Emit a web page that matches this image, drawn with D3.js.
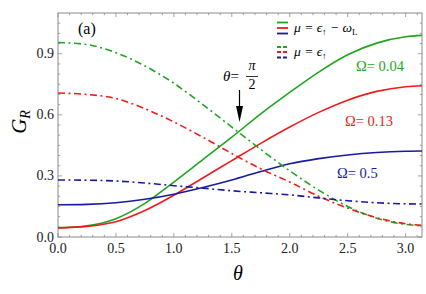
<!DOCTYPE html>
<html lang="en">
<head>
<meta charset="UTF-8">
<title>G_R vs theta</title>
<script src="https://cdn.jsdelivr.net/npm/d3@7"></script>
<style>
  body { margin: 0; background: #fff; }
  svg { display: block; }
</style>
</head>
<body>
<div id="chart"></div>
<script>
// data
const theta = [0, 0.25, 0.5, 0.75, 1.0, 1.25, 1.5, 1.75, 2.0, 2.25, 2.5, 2.75, 3.0, 3.1416];
const greenSolid = [0.045, 0.055, 0.09, 0.165, 0.27, 0.38, 0.49, 0.605, 0.71, 0.81, 0.895, 0.952, 0.983, 0.99];
const redSolid = [0.045, 0.052, 0.075, 0.13, 0.205, 0.29, 0.375, 0.46, 0.54, 0.612, 0.672, 0.715, 0.738, 0.743];
const blueSolid = [0.158, 0.16, 0.168, 0.185, 0.21, 0.243, 0.28, 0.322, 0.36, 0.385, 0.403, 0.415, 0.421, 0.422];
const greenDash = [0.955, 0.945, 0.905, 0.84, 0.755, 0.65, 0.54, 0.43, 0.325, 0.23, 0.15, 0.092, 0.062, 0.055];
const redDash = [0.707, 0.70, 0.68, 0.63, 0.565, 0.49, 0.41, 0.335, 0.27, 0.2, 0.142, 0.095, 0.065, 0.057];
const blueDash = [0.28, 0.279, 0.275, 0.265, 0.252, 0.24, 0.227, 0.217, 0.207, 0.192, 0.178, 0.168, 0.163, 0.162];
const xTicks = [0, 0.5, 1.0, 1.5, 2.0, 2.5, 3.0];
const yTicks = [0, 0.3, 0.6, 0.9];

const colors = { green: "#1fa51f", red: "#ee1c1c", blue: "#1a1aa0" };
const dashDot = "7,3.5,2,3.5";

const series = [
  { vals: greenSolid, color: colors.green, dash: null },
  { vals: redSolid, color: colors.red, dash: null },
  { vals: blueSolid, color: colors.blue, dash: null },
  { vals: greenDash, color: colors.green, dash: dashDot },
  { vals: redDash, color: colors.red, dash: dashDot },
  { vals: blueDash, color: colors.blue, dash: dashDot }
];

// pick a serif face that is really installed (falls back otherwise)
function pickSerif() {
  const ctx = document.createElement("canvas").getContext("2d");
  const sample = "mmwwiilQg0.5θΩ";
  ctx.font = "20px monospace";
  const base = ctx.measureText(sample).width;
  const names = ["Liberation Serif", "Times New Roman", "Tinos", "DejaVu Serif", "Noto Serif", "FreeSerif", "Nimbus Roman"];
  for (const n of names) {
    ctx.font = `20px "${n}", monospace`;
    if (Math.abs(ctx.measureText(sample).width - base) > 0.5) return `"${n}", serif`;
  }
  return "serif";
}
const serif = pickSerif();

const W = 426, H = 294;
const m = { left: 58, right: 422, top: 13, bottom: 237 };

const svg = d3.select("#chart").append("svg")
  .attr("width", W).attr("height", H)
  .style("font-family", serif);

const x = d3.scaleLinear().domain([0, Math.PI]).range([m.left, m.right]);
const y = d3.scaleLinear().domain([0, 1.1]).range([m.bottom, m.top]);

const axisColor = "#8c8c8c";

// frame
svg.append("rect")
  .attr("x", m.left).attr("y", m.top)
  .attr("width", m.right - m.left).attr("height", m.bottom - m.top)
  .attr("fill", "none").attr("stroke", axisColor).attr("stroke-width", 1);

// ticks pointing inward, all four sides
const xMinor = d3.range(0, 3.15, 0.1);
const yMinor = d3.range(0, 1.1, 0.05);
const tickG = svg.append("g").attr("stroke", axisColor).attr("stroke-width", 0.8);
xMinor.forEach((v, i) => {
  const len = (i % 5 === 0) ? 4 : 2.2;
  tickG.append("line").attr("x1", x(v)).attr("x2", x(v)).attr("y1", m.bottom).attr("y2", m.bottom - len);
  tickG.append("line").attr("x1", x(v)).attr("x2", x(v)).attr("y1", m.top).attr("y2", m.top + len);
});
yMinor.forEach((v, i) => {
  const len = (i % 6 === 0) ? 4 : 2.2;
  tickG.append("line").attr("x1", m.left).attr("x2", m.left + len).attr("y1", y(v)).attr("y2", y(v));
  tickG.append("line").attr("x1", m.right).attr("x2", m.right - len).attr("y1", y(v)).attr("y2", y(v));
});

// tick labels
svg.append("g").selectAll("text").data(xTicks).join("text")
  .attr("x", d => x(d)).attr("y", 253)
  .attr("text-anchor", "middle").attr("font-size", 14).attr("fill", "#222")
  .text(d => d.toFixed(1));
svg.append("g").selectAll("text").data(yTicks).join("text")
  .attr("x", m.left - 4).attr("y", d => y(d) + 4.5)
  .attr("text-anchor", "end").attr("font-size", 14).attr("fill", "#222")
  .text(d => d.toFixed(1));

// axis labels
svg.append("text").attr("x", 238).attr("y", 280)
  .attr("text-anchor", "middle").attr("font-size", 20).attr("font-style", "italic")
  .text("θ");
const yl = svg.append("text")
  .attr("transform", "translate(26,122) rotate(-90)")
  .attr("text-anchor", "middle").attr("font-size", 21).attr("font-style", "italic");
yl.append("tspan").text("G");
yl.append("tspan").attr("font-size", 14).attr("dy", 4).text("R");

// curves
const line = d3.line()
  .x((d, i) => x(theta[i]))
  .y(d => y(d))
  .curve(d3.curveMonotoneX);

const curveG = svg.append("g");
series.forEach(s => {
  curveG.append("path")
    .attr("d", line(s.vals))
    .attr("fill", "none")
    .attr("stroke", s.color)
    .attr("stroke-width", 1.6)
    .attr("stroke-dasharray", s.dash);
});

// panel label
svg.append("text").attr("x", 78).attr("y", 34).attr("font-size", 16).text("(a)");

// legend
const legend = [
  { ys: [22.5, 28, 33.5], dash: null, text: ["μ = ϵ", "↑", " − ω", "L"], ty: 32 },
  { ys: [47, 52, 57.5], dash: "4,2", text: ["μ = ϵ", "↑"], ty: 56 }
];
const cols = [colors.green, colors.red, colors.blue];
legend.forEach(l => {
  l.ys.forEach((yy, i) => {
    svg.append("line").attr("x1", 277).attr("x2", 288).attr("y1", yy).attr("y2", yy)
      .attr("stroke", cols[i]).attr("stroke-width", 1.8).attr("stroke-dasharray", l.dash);
  });
  const t = svg.append("text").attr("x", 294).attr("y", l.ty).attr("font-size", 13.5);
  l.text.forEach((part, i) => {
    const sp = t.append("tspan").text(part);
    if (i % 2 === 1) sp.attr("font-size", 9).attr("dy", 2.5);
    else if (i > 0) sp.attr("dy", -2.5);
    if (part.startsWith("μ") || part.includes("ω")) sp.attr("font-style", "italic");
  });
});

// Omega labels
const omegaLabels = [
  { text: "Ω= 0.04", x: 356, y: 71, color: colors.green },
  { text: "Ω= 0.13", x: 345, y: 126, color: colors.red },
  { text: "Ω= 0.5", x: 337, y: 178, color: colors.blue }
];
svg.append("g").selectAll("text").data(omegaLabels).join("text")
  .attr("x", d => d.x).attr("y", d => d.y)
  .attr("font-size", 14.5).attr("fill", d => d.color)
  .text(d => d.text);

// theta = pi/2 annotation
const ann = svg.append("g");
const t0 = ann.append("text").attr("x", 223).attr("y", 81).attr("font-size", 15);
t0.append("tspan").attr("font-style", "italic").text("θ");
t0.append("tspan").text("=");
ann.append("text").attr("x", 252).attr("y", 70).attr("text-anchor", "middle")
  .attr("font-size", 14).attr("font-style", "italic").text("π");
ann.append("line").attr("x1", 246).attr("x2", 258).attr("y1", 76.5).attr("y2", 76.5)
  .attr("stroke", "#000").attr("stroke-width", 0.8);
ann.append("text").attr("x", 252).attr("y", 89).attr("text-anchor", "middle")
  .attr("font-size", 14).text("2");
const ax = x(Math.PI / 2) - 0.5;
ann.append("line").attr("x1", ax).attr("x2", ax)
  .attr("y1", 90).attr("y2", 110).attr("stroke", "#000").attr("stroke-width", 1.2);
ann.append("path")
  .attr("d", `M${ax - 3.5},106 L${ax + 3.5},106 L${ax},122 Z`)
  .attr("fill", "#000");
</script>
</body>
</html>
